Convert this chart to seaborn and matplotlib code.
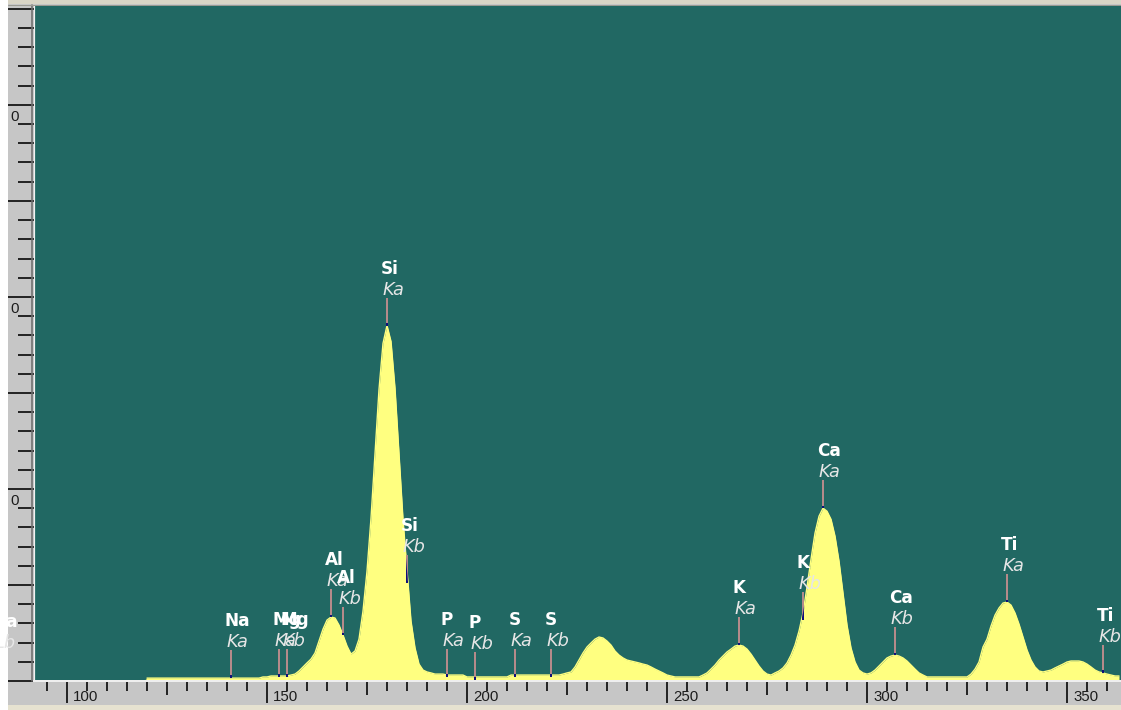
import numpy as np
import pandas as pd
import matplotlib
matplotlib.use("Agg")
import matplotlib.pyplot as plt
import matplotlib.transforms as mtransforms
from matplotlib.lines import Line2D
from matplotlib.patches import Rectangle
from matplotlib.ticker import FixedLocator, MultipleLocator
import seaborn as sns

# ---------------------------------------------------------------- data
first_channel = 92
counts = [
    # 92-119
    0, 0, 0, 0, 0, 0, 0, 0, 0, 0, 0, 0, 0, 0, 0, 0, 0, 0, 0, 0,
    0, 0, 0, 0, 0, 0, 0, 0,
    # 120-148
    15, 15, 15, 15, 15, 15, 15, 15, 15, 15, 15, 15, 15, 15, 15, 15, 15, 15,
    15, 15, 15, 15, 15, 15, 15, 15, 15, 15, 15,
    # 149-157
    21, 21, 26, 26, 26, 26, 26, 31, 36,
    # 158-171  (Al)
    52, 73, 94, 114, 146, 208, 270, 317, 333, 328, 291, 239, 182, 140,
    # 172-194  (Si)
    156, 218, 364, 572, 848, 1186, 1518, 1758, 1851, 1768, 1524, 1186, 842,
    575, 312, 172, 88, 57, 47, 42, 36, 36, 36,
    # 195-199
    31, 31, 31, 31, 31,
    # 200-210
    21, 21, 21, 21, 21, 21, 21, 21, 21, 21, 21,
    # 211-223
    31, 31, 31, 31, 31, 31, 31, 31, 31, 31, 31, 31, 31,
    # 224-251
    36, 42, 47, 73, 109, 146, 177, 198, 218, 229, 224, 208, 187, 156, 135,
    120, 109, 104, 99, 94, 88, 83, 73, 62, 52, 42, 31, 26,
    # 252-258
    21, 21, 21, 21, 21, 21, 21,
    # 259-279  (K)
    31, 42, 62, 83, 109, 130, 151, 166, 182, 187, 182, 166, 140, 109, 78,
    52, 36, 31, 42, 52, 68,
    # 280-300  (Ca)
    94, 135, 187, 260, 354, 489, 634, 770, 858, 900, 884, 842, 754, 624, 458,
    291, 172, 99, 57, 42, 36,
    # 301-314
    42, 57, 78, 99, 120, 130, 135, 130, 120, 104, 83, 62, 42, 31,
    # 315-325
    21, 21, 21, 21, 21, 21, 21, 21, 21, 21, 21,
    # 326-363  (Ti)
    36, 62, 99, 177, 218, 286, 343, 380, 406, 411, 395, 354, 296, 229, 161,
    109, 73, 52, 47, 52, 57, 68, 78, 88, 99, 104, 104, 104, 99, 88, 73, 57,
    47, 42, 36, 31, 26, 26,
]
channels = list(range(first_channel, first_channel + len(counts)))

peak_elements = ["Na", "Na", "Mg", "Mg", "Al", "Al", "Si", "Si", "P", "P",
                 "S", "S", "K", "K", "Ca", "Ca", "Ti", "Ti"]
peak_lines = ["Lb", "Ka", "Ka", "Kb", "Ka", "Kb", "Ka", "Kb", "Ka", "Kb",
              "Ka", "Kb", "Ka", "Kb", "Ka", "Kb", "Ka", "Kb"]
peak_channels = [83, 141, 153, 155, 166, 169, 180, 185, 195, 202,
                 212, 221, 268, 284, 289, 307, 335, 359]
peak_counts = [10, 16, 21, 21, 333, 239, 1851, 510, 21, 5,
               21, 21, 187, 317, 900, 135, 411, 42]

x_major = [100, 150, 200, 250, 300, 350]
x_medium = [125, 175, 225, 275, 325]
y_labelled = [1000, 2000, 3000]
y_label_text = ["0", "0", "0"]

# ---------------------------------------------------------------- style
TEAL = "#216863"
YELLOW = "#ffff80"
MAUVE = "#b58a8a"
NAVY = "#10107a"
STRIP = "#c6c6c6"
TICK = "#262626"

sns.set_style("white")
plt.rcParams["font.family"] = ["DejaVu Sans"]

W, H = 1121, 710
PT = 72.0 / 100.0          # points per pixel at dpi 100

fig = plt.figure(figsize=(W / 100, H / 100), dpi=100, facecolor=STRIP)

plot_left, plot_right, plot_top, plot_bottom = 34, 1121, 5, 681
ax = fig.add_axes([plot_left / W, (H - plot_bottom) / H,
                   (plot_right - plot_left) / W, (plot_bottom - plot_top) / H])
ax.set_facecolor(TEAL)
ymax = 3520
ax.set_xlim(91.75, 363.5)
ax.set_ylim(0, ymax)
counts_per_px = ymax / (plot_bottom - plot_top)

df = pd.DataFrame({"channel": channels, "counts": counts})

# spectrum
fill = ax.fill_between(df["channel"], df["counts"], color=YELLOW,
                       linewidth=0, zorder=2)
sns.lineplot(data=df[df["counts"] > 0], x="channel", y="counts",
             color=YELLOW, lw=1.0, ax=ax, estimator=None, zorder=2.05)
ax.set_xlabel("")
ax.set_ylabel("")
fill_path = fill.get_paths()[0]

# peak markers and labels
stem = 28 * counts_per_px
tip = 2.5 * counts_per_px
for el, ln, ch, v in zip(peak_elements, peak_lines, peak_channels, peak_counts):
    ax.plot([ch, ch], [v, v + stem], color=MAUVE, lw=2 * PT,
            solid_capstyle="butt", zorder=3)
    inner, = ax.plot([ch, ch], [v, v + stem], color=NAVY, lw=2 * PT,
                     solid_capstyle="butt", zorder=3.1)
    inner.set_clip_path(fill_path, ax.transData)
    ax.plot([ch, ch], [v, v + tip], color=NAVY, lw=2 * PT,
            solid_capstyle="butt", zorder=3.2)
    ax.annotate(el, (ch, v), xytext=(-6 * PT, 52 * PT),
                textcoords="offset points", ha="left", va="baseline",
                fontsize=12.2, fontweight="bold", color="white",
                annotation_clip=False, zorder=5)
    ax.annotate(ln, (ch, v), xytext=(-4 * PT, 31 * PT),
                textcoords="offset points", ha="left", va="baseline",
                fontsize=12.8, style="italic", color="#e6e6e6",
                annotation_clip=False, zorder=5)

# ---------------------------------------------------------------- axes
for side in ("top", "right"):
    ax.spines[side].set_visible(False)
ax.spines["left"].set_color("#f2f2f2")
ax.spines["left"].set_linewidth(1.2 * PT)
ax.spines["bottom"].set_color("#efefef")
ax.spines["bottom"].set_linewidth(2 * PT)

ax.xaxis.set_major_locator(FixedLocator(x_major))
ax.xaxis.set_minor_locator(MultipleLocator(5))
ax.yaxis.set_major_locator(MultipleLocator(500))
ax.yaxis.set_minor_locator(MultipleLocator(100))
ax.tick_params(axis="x", which="both", bottom=True, top=False)
ax.tick_params(axis="y", which="both", left=True, right=False)
ax.tick_params(axis="x", which="major", direction="out", length=22 * PT,
               width=2 * PT, color=TICK, labelbottom=False)
ax.tick_params(axis="x", which="minor", direction="out", length=10 * PT,
               width=2 * PT, color=TICK)
ax.tick_params(axis="y", which="major", direction="out", length=26 * PT,
               width=2 * PT, color=TICK, labelleft=False)
ax.tick_params(axis="y", which="minor", direction="out", length=16 * PT,
               width=2 * PT, color=TICK)

sec = ax.secondary_xaxis("bottom")
sec.set_xticks(x_medium, labels=[""] * len(x_medium))
sec.tick_params(bottom=True, direction="out", length=14 * PT, width=2 * PT,
                color=TICK)
for sp in sec.spines.values():
    sp.set_visible(False)

xlab_tr = mtransforms.blended_transform_factory(ax.transData, ax.transAxes)
for v in x_major:
    ax.text(v, 0, str(v), transform=xlab_tr + mtransforms.ScaledTranslation(
                6 / 100, -9 / 100, fig.dpi_scale_trans),
            ha="left", va="top", fontsize=10.8, color="#1c1c1c",
            family="Liberation Sans", clip_on=False)

ylab_tr = mtransforms.blended_transform_factory(ax.transAxes, ax.transData)
for v, t in zip(y_labelled, y_label_text):
    ax.text(0, v, t, transform=ylab_tr + mtransforms.ScaledTranslation(
                -15 / 100, -12 / 100, fig.dpi_scale_trans),
            ha="right", va="center", fontsize=10.8, color="#1c1c1c",
            family="Liberation Sans", clip_on=False)

# ---------------------------------------------------------------- frame
fig.add_artist(Line2D([31.5 / W, 31.5 / W], [(H - plot_bottom) / H, (H - plot_top) / H],
                      transform=fig.transFigure, color="#6e6e6e", lw=1.6 * PT, zorder=4))
fig.add_artist(Rectangle((0, 0), 8 / W, 1, transform=fig.transFigure,
                         facecolor="white", edgecolor="none", zorder=-1))
fig.add_artist(Rectangle((8 / W, 1 - 4 / H), 1, 4 / H, transform=fig.transFigure,
                         facecolor="#d9d5c6", edgecolor="none", zorder=-1))
fig.add_artist(Line2D([8 / W, 1], [1 - 4.5 / H, 1 - 4.5 / H], transform=fig.transFigure,
                      color="#9a9a92", lw=1 * PT, zorder=4))
fig.add_artist(Rectangle((8 / W, 0), 1, 5 / H, transform=fig.transFigure,
                         facecolor="#e6e2d0", edgecolor="none", zorder=-1))

fig.savefig("out.png", dpi=100, facecolor=fig.get_facecolor())
